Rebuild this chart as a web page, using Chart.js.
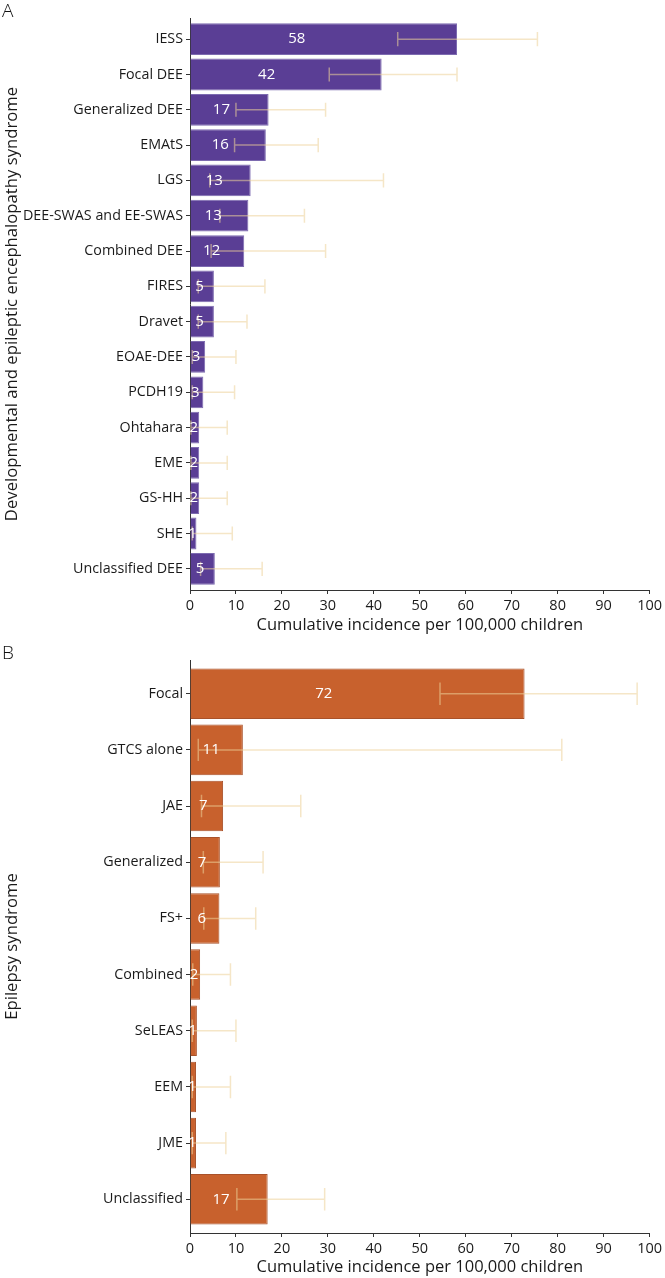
<!DOCTYPE html>
<html>
<head>
<meta charset="utf-8">
<script src="https://cdn.jsdelivr.net/npm/chart.js@4"></script>
<style>
  body { margin: 0; background: #fff; }
  .panel { position: relative; width: 665px; }
  .panel canvas { display: block; }
  .letter { position: absolute; left: 2px; top: -3px; font: 300 19px "Open Sans"; color: #111; }
</style>
</head>
<body>
<div class="panel" style="height:640px"><div class="letter">A</div><canvas id="chartA" width="665" height="640"></canvas></div>
<div class="panel" style="height:638px"><div class="letter" style="top:-1px">B</div><canvas id="chartB" width="665" height="638"></canvas></div>
<script>
// panel A: developmental and epileptic encephalopathy syndromes
const deeNames = ['IESS', 'Focal DEE', 'Generalized DEE', 'EMAtS', 'LGS', 'DEE-SWAS and EE-SWAS',
  'Combined DEE', 'FIRES', 'Dravet', 'EOAE-DEE', 'PCDH19', 'Ohtahara', 'EME', 'GS-HH', 'SHE', 'Unclassified DEE'];
const deeIncidence = [58.1, 41.7, 17.1, 16.5, 13.2, 12.7, 11.8, 5.2, 5.2, 3.3, 2.9, 2.0, 2.0, 2.0, 1.4, 5.4];
const deeLower = [45.2, 30.3, 10.0, 9.7, 4.3, 6.5, 4.6, 1.8, 1.8, 0.5, 0.5, 0.2, 0.2, 0.2, 0.5, 2.3];
const deeUpper = [75.6, 58.1, 29.5, 27.9, 42.1, 24.9, 29.5, 16.3, 12.4, 10.0, 9.7, 8.1, 8.1, 8.1, 9.2, 15.7];
const deeLabels = ['58', '42', '17', '16', '13', '13', '12', '5', '5', '3', '3', '2', '2', '2', '1', '5'];

// panel B: epilepsy syndromes
const epiNames = ['Focal', 'GTCS alone', 'JAE', 'Generalized', 'FS+', 'Combined', 'SeLEAS', 'EEM', 'JME', 'Unclassified'];
const epiIncidence = [72.8, 11.5, 7.2, 6.5, 6.4, 2.2, 1.5, 1.3, 1.3, 16.9];
const epiLower = [54.4, 1.8, 2.5, 2.9, 3.0, 0.6, 0.5, 0.5, 0.5, 10.2];
const epiUpper = [97.3, 80.9, 24.1, 15.9, 14.3, 8.8, 10.0, 8.8, 7.8, 29.3];
const epiLabels = ['72', '11', '7', '7', '6', '2', '1', '1', '1', '17'];

const xTitle = 'Cumulative incidence per 100,000 children';
const axisColor = '#333';
const textColor = '#1a1a1a';
const errColor = 'rgba(237,209,153,0.55)';

// error bars + value labels, drawn on top of the bars
const errorBars = {
  id: 'errorBars',
  afterDatasetsDraw(chart, args, opts) {
    const ctx = chart.ctx, xs = chart.scales.x, ys = chart.scales.y;
    const step = Math.abs(ys.getPixelForValue(1) - ys.getPixelForValue(0));
    const cap = step * 0.2;
    ctx.save();
    ctx.strokeStyle = errColor;
    ctx.lineWidth = 1.5;
    opts.lower.forEach((lo, i) => {
      const y = ys.getPixelForValue(i);
      const x1 = xs.getPixelForValue(lo), x2 = xs.getPixelForValue(opts.upper[i]);
      ctx.beginPath();
      ctx.moveTo(x1, y); ctx.lineTo(x2, y);
      ctx.moveTo(x1, y - cap); ctx.lineTo(x1, y + cap);
      ctx.moveTo(x2, y - cap); ctx.lineTo(x2, y + cap);
      ctx.stroke();
    });
    ctx.fillStyle = '#fff';
    ctx.font = '15px "Open Sans"';
    ctx.textAlign = 'center';
    ctx.textBaseline = 'middle';
    opts.labels.forEach((t, i) => {
      ctx.fillText(t, xs.getPixelForValue(opts.values[i] * 0.4), ys.getPixelForValue(i));
    });
    ctx.restore();
  }
};

function makeChart(id, names, values, lower, upper, labels, fill, border, yTitle, top, xHeight, titlePad) {
  return new Chart(document.getElementById(id), {
    type: 'bar',
    data: {
      datasets: [{
        data: values.map((v, i) => ({x: v, y: i})),
        backgroundColor: fill,
        borderColor: border,
        borderWidth: 1,
        categoryPercentage: 0.9,
        barPercentage: 1
      }]
    },
    options: {
      indexAxis: 'y',
      responsive: false,
      animation: false,
      devicePixelRatio: 1,
      layout: { padding: { top: top, right: 12, left: 0, bottom: 0 } },
      plugins: {
        legend: { display: false },
        tooltip: { enabled: false },
        errorBars: { lower: lower, upper: upper, labels: labels, values: values }
      },
      scales: {
        x: {
          type: 'linear',
          min: 0,
          max: 100,
          ticks: { stepSize: 10, color: textColor, font: { family: 'Open Sans', size: 14.5 }, padding: 3 },
          grid: { drawOnChartArea: false, tickLength: 4, color: axisColor },
          border: { color: axisColor, width: 1 },
          title: {
            display: true,
            text: xTitle,
            color: textColor,
            font: { family: 'Open Sans', size: 16.5 },
            padding: { top: 0, bottom: titlePad }
          },
          afterFit: s => { s.height = xHeight; }
        },
        y: {
          type: 'linear',
          reverse: true,
          offset: false,
          bounds: 'data',
          min: -0.6,
          max: names.length - 0.4,
          afterBuildTicks: s => { s.ticks = names.map((n, i) => ({value: i})); },
          ticks: {
            autoSkip: false,
            callback: v => names[v],
            color: textColor,
            font: { family: 'Open Sans', size: 14.3 },
            padding: 3
          },
          grid: { drawOnChartArea: false, offset: false, tickLength: 4, color: axisColor },
          border: { color: axisColor, width: 1 },
          title: {
            display: true,
            text: yTitle,
            color: textColor,
            font: { family: 'Open Sans', size: 16.7 },
            padding: { top: 2, bottom: 0 }
          },
          afterFit: s => { s.width = 190; }
        }
      }
    },
    plugins: [errorBars]
  });
}

makeChart('chartA', deeNames, deeIncidence, deeLower, deeUpper, deeLabels,
  '#5a3e95', '#7d6bb0', 'Developmental and epileptic encephalopathy syndrome', 18, 50, 5);
makeChart('chartB', epiNames, epiIncidence, epiLower, epiUpper, epiLabels,
  '#c8612d', '#a9522a', 'Epilepsy syndrome', 20, 45, 1);
</script>
</body>
</html>
